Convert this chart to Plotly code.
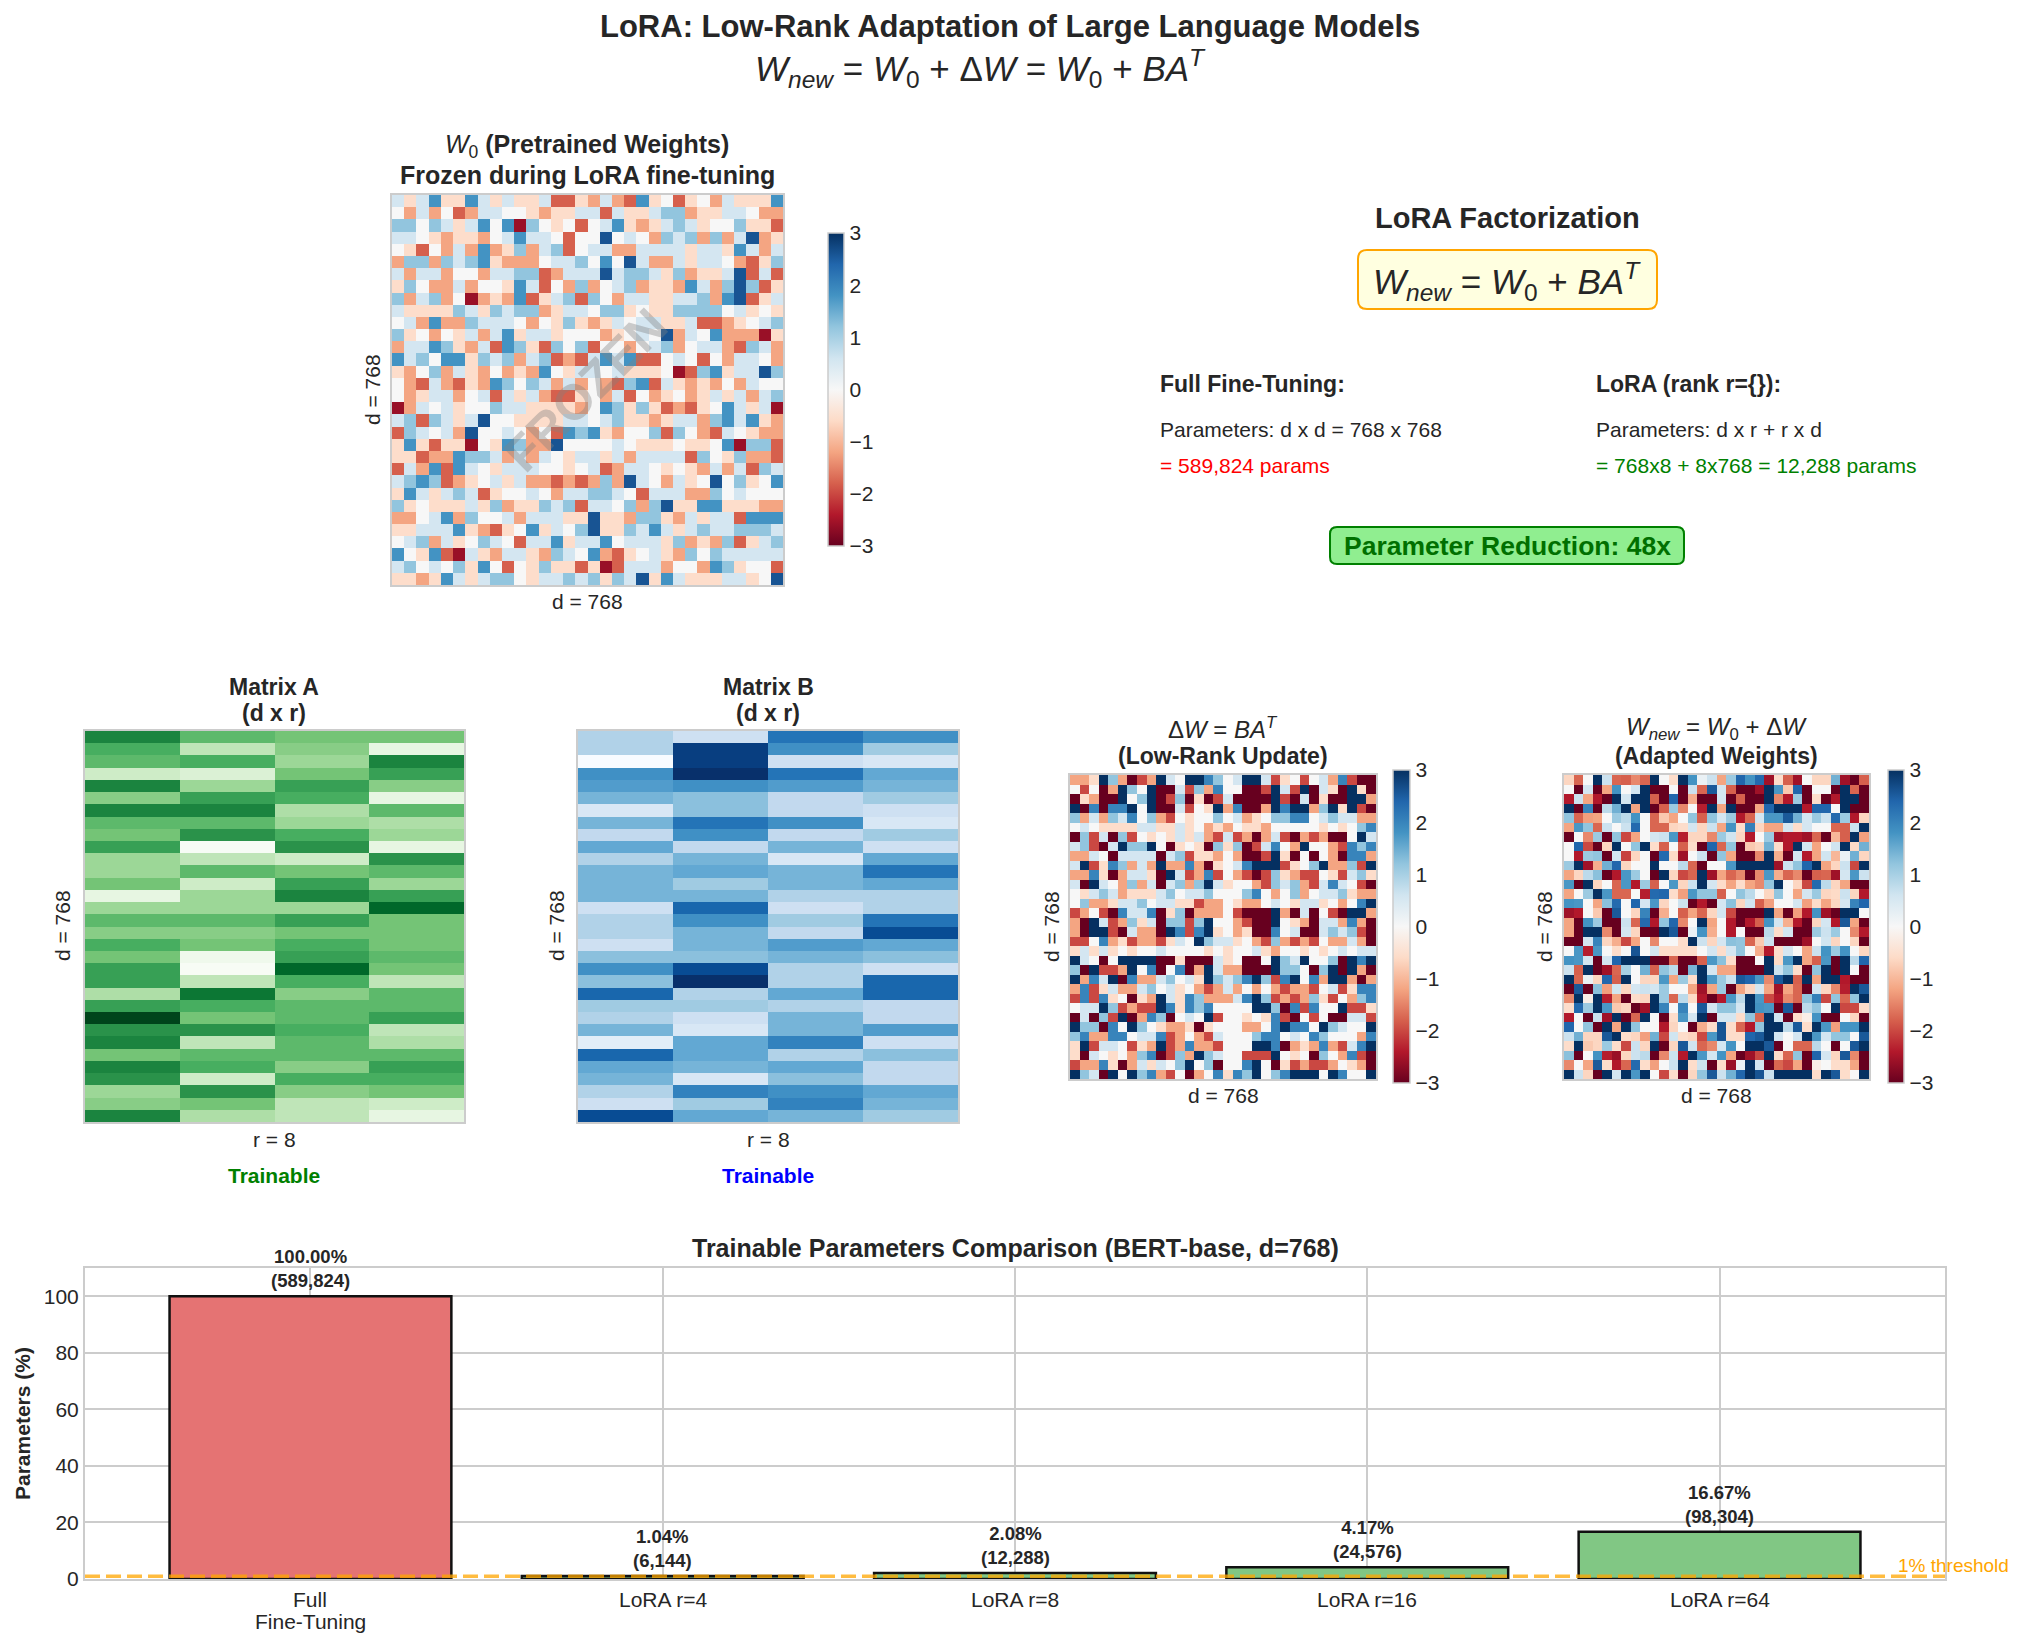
import plotly.graph_objects as go

FIG_W, FIG_H = 2020, 1644
FONT = "Liberation Sans, Arial, Helvetica, sans-serif"
INK = "#262626"
GRID = "#cccccc"


def fx(x):
    return x / FIG_W


def fy(y):
    return 1 - y / FIG_H


# ---------------------------------------------------------------- data
# Colour levels (RdBu, -3..3)
W0_LEVELS = {"R": -2.6, "r": -1.8, "o": -1.2, "p": -0.55, ".": 0.0,
             "c": 0.55, "l": 1.2, "b": 1.8, "B": 2.6}
DW_LEVELS = {"R": -3.6, "r": -2.0, "o": -1.2, "p": -0.55, ".": 0.0,
             "c": 0.55, "l": 1.2, "b": 2.0, "B": 3.6}

W0_ROWS = [
    "cpcbppbcpcppcrrpocorbp.rp.ocpppb",
    ".oco.rocc..poppccrcppclloppcc.oo",
    "ll.lcpcb.bRl.p.r.cbpopclcp..lppr",
    "cc.poppo.cbcc.r..B.c.olclolocBop",
    ".pr.ocoboploclr.ccooccccpccpbcoc",
    "ollolclbpooo.ccl.b.Bcoocpcc.orpl",
    "cocco..occllrocccBcllcploppcBrcr",
    "pl.ooco..pbcr.olo.cloppobcolBlrp",
    "loclo.Ropobrpclrl.occppcclobBrpc",
    "cpppplcplcllopcc.llp.ppllll.cp.p",
    ".coboolccc.o.plpopc.ccppcrrop.cl",
    "lp.o.pcocbpccp...op.c.Boc.boooRp",
    "occblpocrblprl.lr..o.clo.ccorlco",
    "bcl.bbplcloclrorcbcbrr.c.r.occ.o",
    "po.locpo.opob.pcc.cppp.RrlbpccBl",
    ".orcorpobl.lcoco.orlbrcpopo.oc..",
    ".opcco.crcpcorrp.ocr.op.opcpcocl",
    "Roc.cp..lccppppo.blplprorp.bcpcR",
    "clrlcpcB..ppppcc.clppopccolbcbpo",
    "rlc.coB..c.o.rblbpo..lrl.orc.poo",
    "pbprppR.pblooB....c.ppp.pp.bRllr",
    "pproobllcococ.pccpcoccccrl.ploor",
    "rcobrbc.pccc..p.crocc.p.pococrlc",
    "clblrop.cpcoororoloBc.ocp.B.lp.b",
    "pbcpclcrp..c.occllc.rcccool.c...",
    "lp.pppcplopplclrcc.lolBppbbpppoo",
    "oo.cbol..cocccppBppollpocpccrbbb",
    "ppcccbporp.bpc.lBpplcbcpclcclllc",
    ".clocp.lc.rccbpccb.cccplopolrpcl",
    "b.pbrRcpoccpolc.borp.cpol.lccccc",
    "cl.c.lpb.r.plpprpRrccco..oblp..r",
    "ppopbcpcll.pcclclplcBpbcpppccp.B",
]

DW_ROWS = [
    "oopBloRroBc.BBbl.cBBcrp.r.cobrRR",
    ".r.RoBl.BRRcrlob..RRrBcrBRcpRBpR",
    "RpoRRB.lBRrlRpRrcRRRRBrRcRpRRBBo",
    "BRbRbbB.BRRcr.pBobRRoBbBBolBpBrR",
    "locolcb.lor.p..l.cop.llbb.clccoo",
    ".c.ppppccppcp.opo.ppo.....p.p.lb",
    "RlrcRlr.p.pcpcorcroRocrRoroRR.Bc",
    "clrRcBllB.Rp.pRlplRrcb.oB..orblb",
    "ooc.RccccRclrppo.oRRrBpR.R.oRbbo",
    "cBrpblocoBooboRp.cbBBBrp.lBoolrB",
    "oobpRoccpRBcrobr.orRrlporr.prclp",
    "cRBc.olocRclolBcp..orlclorcbc.rR",
    ".pclcopppcl.ccl...lb.o.lo.cclpoo",
    ".loopccl.ccpproo.poo.c.pccp.o.bB",
    "ro.rRbccbRplRooo.rRRRBoRcR.rRBBo",
    "oRBcrolpcRllrlB..orRRB.poRccoboR",
    "oRBBrRcooRBbrbBp.opRRb.cRRclclrR",
    "rr.boproorpc.Blccp.orloror.oocoR",
    "pcpcp.p..c....p.p..cpo..p.p.c.cc",
    "Bc.R.BBBBRRpRRRcp.RR.BlcB..lRBbB",
    "lRBrroB.bR.bRoBcooRRRBll.RlBRBoR",
    "BobcBRboocl.cpBlclbBlrbB.boBBoRo",
    "obrpcoocl.cp.oroco.o.oroor.crpbb",
    "rbrbp.RpoBcpblooocbBlrorolpr.olb",
    ".ccBlrorrBbpblb....BBlRbrb..Brrp",
    "RcRlrBRoblR.c.Br..p.pbrR.r.RRccr",
    "BllRb.Bl.poopRp...oo.bBbb.Blc..B",
    "lboobb.ccbro.orc...lbb.c.bl...ob",
    "pBrcc.rpoBroboor...BBbRopoborcbB",
    "pRc.p.olbRrloBlc..rrrB.p.Rl.obrR",
    "roobpRocpc.lB.lR..bB.Rprorro.poR",
    "BlcRB.Blbor.Ro.bpblB.lbBBB.Bb..B",
]

# Matrix A (Greens) and Matrix B (Blues): relative shade levels, 32 x 4
A_VALUES = [
    [7, 5, 4.5, 4.5], [5.5, 2.5, 4, 1], [5, 5.5, 3.5, 7], [2, 1.5, 4.5, 6],
    [7, 3.5, 6, 4], [4, 6, 5.5, 1], [7, 7, 3, 5], [5, 5, 3.5, 3],
    [4.5, 6.5, 5.5, 3.5], [6, 0, 6.5, 1], [3.5, 2.5, 2, 6.5], [3.5, 5, 4.5, 5],
    [4.5, 2, 6, 3.5], [1, 3.5, 7, 6], [3.5, 3.5, 3.5, 8], [5, 5, 6, 4.5],
    [4, 4, 4.5, 4.5], [5.5, 4.5, 5.5, 4.5], [4.5, 0.5, 6, 5], [6, 0, 8, 4.5],
    [6, 2.5, 5.5, 2.5], [3, 7.5, 4, 5], [6, 5.5, 5, 5], [9, 4.5, 5, 6],
    [6.5, 6.5, 5.5, 2.5], [7, 2.5, 5, 3], [4.5, 5, 5, 5], [7, 5.5, 4, 6],
    [6.5, 2, 5.5, 5.5], [3.5, 6.5, 4, 4.5], [4, 4.5, 2.5, 2], [7, 3, 2.5, 1],
]
B_VALUES = [
    [3, 2, 7, 6], [3, 9, 6, 3.5], [0, 9, 2, 1.5], [6, 9.5, 7, 5],
    [5.5, 6, 5.5, 4.5], [4.5, 4, 2.5, 3.5], [1.5, 4, 2.5, 2], [4.5, 7, 6, 1.5],
    [2.5, 6, 2.5, 3.5], [5, 2.5, 4.5, 2], [3, 4.5, 1.5, 5], [4.5, 5, 4.5, 7],
    [4.5, 3.5, 4.5, 5], [4.5, 4.5, 3, 3], [2, 7.5, 2, 3], [3, 6, 3.5, 7],
    [3, 4.5, 2.5, 8.5], [2, 4.5, 5.5, 5], [4, 4, 4.5, 4], [6, 8.5, 3, 2],
    [4, 9.5, 3, 7.5], [7.5, 3, 5, 7.5], [3.5, 3.5, 3, 2.5], [3, 2, 4.5, 2.5],
    [4.5, 1.5, 4.5, 5.5], [1, 5, 6.5, 2], [7.5, 5, 3, 4], [5, 4.5, 5, 2.5],
    [4.5, 1.5, 4, 2.5], [3, 6.5, 6, 5], [2, 3.5, 6.5, 4.5], [8.5, 5, 4.5, 3.5],
]

# Bar chart
BAR_LABELS = [["Full", "Fine-Tuning"], ["LoRA r=4"], ["LoRA r=8"], ["LoRA r=16"], ["LoRA r=64"]]
BAR_PARAMS = [589824, 6144, 12288, 24576, 98304]
BAR_PCT = [100.00, 1.04, 2.08, 4.17, 16.67]
BAR_COLORS = ["#e57373", "#81c784", "#81c784", "#81c784", "#81c784"]
THRESHOLD = 1
Y_TICKS = [0, 20, 40, 60, 80, 100]
CB_TICKS = [-3, -2, -1, 0, 1, 2, 3]


def decode(rows, levels):
    out = []
    for row in rows:
        row = (row + "." * 32)[:32]
        out.append([levels.get(ch, 0.0) for ch in row])
    return out


W0 = decode(W0_ROWS, W0_LEVELS)
DW = decode(DW_ROWS, DW_LEVELS)
WNEW = [[a + b for a, b in zip(r0, r1)] for r0, r1 in zip(W0, DW)]

RDBU = [[0.0, "#67001f"], [0.1, "#b2182b"], [0.2, "#d6604d"], [0.3, "#f4a582"],
        [0.4, "#fddbc7"], [0.5, "#f7f7f7"], [0.6, "#d1e5f0"], [0.7, "#92c5de"],
        [0.8, "#4393c3"], [0.9, "#2166ac"], [1.0, "#053061"]]
GREENS = [[0, "#f7fcf5"], [0.125, "#e5f5e0"], [0.25, "#c7e9c0"], [0.375, "#a1d99b"],
          [0.5, "#74c476"], [0.625, "#41ab5d"], [0.75, "#238b45"], [0.875, "#006d2c"],
          [1, "#00441b"]]
BLUES = [[0, "#f7fbff"], [0.125, "#deebf7"], [0.25, "#c6dbef"], [0.375, "#9ecae1"],
         [0.5, "#6baed6"], [0.625, "#4292c6"], [0.75, "#2171b5"], [0.875, "#08519c"],
         [1, "#08306b"]]

fig = go.Figure()
axes = {}
annotations = []
shapes = []


def add_text(text, x, y, size, color=INK, xanchor="center", yanchor="middle", angle=0):
    annotations.append(dict(text=text, x=fx(x), y=fy(y), xref="paper", yref="paper",
                            xanchor=xanchor, yanchor=yanchor, showarrow=False,
                            textangle=angle, borderpad=0,
                            font=dict(family=FONT, size=size, color=color)))


def colorbar(x_left, y_top, y_bot, thick):
    return dict(x=fx(x_left), xanchor="left", y=(fy(y_top) + fy(y_bot)) / 2,
                yanchor="middle", len=(y_bot - y_top) / FIG_H, lenmode="fraction",
                thickness=thick, thicknessmode="pixels", xpad=0, ypad=0,
                outlinewidth=1.5, outlinecolor=GRID, ticks="",
                tickvals=CB_TICKS,
                ticktext=[str(v).replace("-", "\u2212") for v in CB_TICKS],
                tickfont=dict(family=FONT, size=21, color=INK))


def add_heatmap(idx, z, cscale, zmin, zmax, box, cbar=None):
    x0, y0, x1, y1 = box
    xa = "xaxis" if idx == 1 else f"xaxis{idx}"
    ya = "yaxis" if idx == 1 else f"yaxis{idx}"
    xr = "x" if idx == 1 else f"x{idx}"
    yr = "y" if idx == 1 else f"y{idx}"
    nrows, ncols = len(z), len(z[0])
    fig.add_trace(go.Heatmap(z=z, colorscale=cscale, zmin=zmin, zmax=zmax,
                             xaxis=xr, yaxis=yr, showscale=cbar is not None,
                             colorbar=cbar if cbar else None, hoverinfo="skip"))
    common = dict(showticklabels=False, showgrid=False, zeroline=False, ticks="",
                  showline=True, mirror=True, linecolor=GRID, linewidth=2,
                  fixedrange=True, automargin=False)
    axes[xa] = dict(domain=[fx(x0), fx(x1)], anchor=yr, range=[-0.5, ncols - 0.5], **common)
    axes[ya] = dict(domain=[fy(y1), fy(y0)], anchor=xr, range=[nrows - 0.5, -0.5], **common)


# ---------------------------------------------------------------- heatmaps
add_heatmap(1, W0, RDBU, -3, 3, (392, 195, 783, 585), colorbar(828, 233, 546, 16))
add_heatmap(2, A_VALUES, GREENS, min(min(r) for r in A_VALUES),
            max(max(r) for r in A_VALUES), (85, 731, 464, 1122))
add_heatmap(3, B_VALUES, BLUES, min(min(r) for r in B_VALUES),
            max(max(r) for r in B_VALUES), (578, 731, 958, 1122))
add_heatmap(4, DW, RDBU, -3, 3, (1070, 775, 1376, 1079), colorbar(1393, 770, 1083, 17))
add_heatmap(5, WNEW, RDBU, -3, 3, (1564, 775, 1869, 1079), colorbar(1888, 770, 1083, 16))

# ---------------------------------------------------------------- bar chart
BAR_X = list(range(len(BAR_PCT)))
fig.add_trace(go.Bar(x=BAR_X, y=BAR_PCT, width=0.8, xaxis="x6", yaxis="y6",
                     marker=dict(color=BAR_COLORS, line=dict(color="#111111", width=2.5)),
                     hoverinfo="skip"))
X_RANGE = [-0.64, len(BAR_PCT) - 1 + 0.64]
fig.add_trace(go.Scatter(x=X_RANGE, y=[THRESHOLD, THRESHOLD], mode="lines",
                         xaxis="x6", yaxis="y6", hoverinfo="skip",
                         line=dict(color="rgba(255,165,0,0.75)", width=3.5, dash="15px,6px")))
axes["xaxis6"] = dict(domain=[fx(85), fx(1945)], anchor="y6", range=X_RANGE,
                      tickvals=BAR_X, showticklabels=False, ticks="",
                      showgrid=True, gridcolor=GRID, gridwidth=1.5, zeroline=False,
                      showline=True, mirror=True, linecolor=GRID, linewidth=2,
                      fixedrange=True, automargin=False)
axes["yaxis6"] = dict(domain=[fy(1579), fy(1268)], anchor="x6", range=[0, 110],
                      tickvals=Y_TICKS, ticks="",
                      tickfont=dict(family=FONT, size=21, color=INK),
                      showgrid=True, gridcolor=GRID, gridwidth=1.5, zeroline=False,
                      showline=True, mirror=True, linecolor=GRID, linewidth=2,
                      fixedrange=True, automargin=False)

# category labels under the bars (one text per line, to match the line spacing)
for i, lines in enumerate(BAR_LABELS):
    for k, line in enumerate(lines):
        annotations.append(dict(text=line, x=i, y=fy(1599 + 22 * k), xref="x6", yref="paper",
                                xanchor="center", yanchor="middle", showarrow=False,
                                borderpad=0,
                                font=dict(family=FONT, size=21, color=INK)))

for i, (p, n) in enumerate(zip(BAR_PCT, BAR_PARAMS)):
    annotations.append(dict(text=f"<b>{p:.2f}%<br>({n:,})</b>", x=i, y=p, xref="x6",
                            yref="y6", xanchor="center", yanchor="bottom", yshift=3,
                            showarrow=False,
                            font=dict(family=FONT, size=18.5, color=INK)))
annotations.append(dict(text="1% threshold", x=4.5, y=THRESHOLD, xref="x6", yref="y6",
                        xanchor="left", yanchor="bottom", yshift=-2, showarrow=False,
                        font=dict(family=FONT, size=19, color="#FFA500")))
add_text("<b>Trainable Parameters Comparison (BERT-base, d=768)</b>", 1015, 1248, 25)
add_text("<b>Parameters (%)</b>", 22, 1424, 21, angle=-90)

# ---------------------------------------------------------------- titles & labels
add_text("<b>LoRA: Low-Rank Adaptation of Large Language Models</b>", 1010, 27, 31)
add_text("<i>W</i><sub><i>new</i></sub> = <i>W</i><sub>0</sub> + \u0394<i>W</i> = "
         "<i>W</i><sub>0</sub> + <i>BA</i><sup><i>T</i></sup>", 980, 69, 35)

add_text("<i>W</i><sub>0</sub><b> (Pretrained Weights)</b>", 587, 146.5, 25)
add_text("<b>Frozen during LoRA fine-tuning</b>", 587, 175.5, 25)
add_text("d = 768", 372, 390, 21, angle=-90)
add_text("d = 768", 587, 601, 21)
add_text("<b>FROZEN</b>", 586, 390, 50, color="rgba(128,128,128,0.38)", angle=-45)

for cx, name, ylab_x, tcolor in ((274, "Matrix A", 62, "#008000"),
                                 (768, "Matrix B", 556, "#0000ff")):
    add_text(f"<b>{name}</b>", cx, 687, 23)
    add_text("<b>(d x r)</b>", cx, 713, 23)
    add_text("d = 768", ylab_x, 926, 21, angle=-90)
    add_text("r = 8", cx, 1139, 21)
    add_text("<b>Trainable</b>", cx, 1175, 21, color=tcolor)

add_text("\u0394<i>W</i> = <i>BA</i><sup><i>T</i></sup>", 1223, 728.5, 24)
add_text("<b>(Low-Rank Update)</b>", 1223, 756, 23)
add_text("d = 768", 1052, 927, 21, angle=-90)
add_text("d = 768", 1223, 1095, 21)

add_text("<i>W</i><sub><i>new</i></sub> = <i>W</i><sub>0</sub> + \u0394<i>W</i>",
         1716, 728.5, 24)
add_text("<b>(Adapted Weights)</b>", 1716, 756, 23)
add_text("d = 768", 1545, 927, 21, angle=-90)
add_text("d = 768", 1716, 1095, 21)

# ---------------------------------------------------------------- factorization panel


def rounded_path(x0, y0, x1, y1, r):
    def P(x, y):
        return f"{fx(x):.5f},{fy(y):.5f}"
    return (f"M {P(x0 + r, y0)} L {P(x1 - r, y0)} Q {P(x1, y0)} {P(x1, y0 + r)} "
            f"L {P(x1, y1 - r)} Q {P(x1, y1)} {P(x1 - r, y1)} "
            f"L {P(x0 + r, y1)} Q {P(x0, y1)} {P(x0, y1 - r)} "
            f"L {P(x0, y0 + r)} Q {P(x0, y0)} {P(x0 + r, y0)} Z")


shapes.append(dict(type="path", xref="paper", yref="paper",
                   path=rounded_path(1358, 250, 1657, 309, 9),
                   fillcolor="#FFFFE0", line=dict(color="#FFA500", width=2)))
shapes.append(dict(type="path", xref="paper", yref="paper",
                   path=rounded_path(1330, 527, 1684, 564, 7),
                   fillcolor="#90EE90", line=dict(color="#008000", width=2)))

add_text("<b>LoRA Factorization</b>", 1507, 218, 29)
add_text("<i>W</i><sub><i>new</i></sub> = <i>W</i><sub>0</sub> + "
         "<i>BA</i><sup><i>T</i></sup>", 1507, 281, 35)
add_text("<b>Full Fine-Tuning:</b>", 1159, 384, 23, xanchor="left")
add_text("Parameters: d x d = 768 x 768", 1159, 429, 21, xanchor="left")
add_text("= 589,824 params", 1159, 466, 21, color="#ff0000", xanchor="left")
add_text("<b>LoRA (rank r={}):</b>", 1595, 384, 23, xanchor="left")
add_text("Parameters: d x r + r x d", 1595, 429, 21, xanchor="left")
add_text("= 768x8 + 8x768 = 12,288 params", 1595, 466, 21, color="#008000", xanchor="left")
add_text("<b>Parameter Reduction: 48x</b>", 1507, 546, 26.5, color="#007000")

fig.update_layout(width=FIG_W, height=FIG_H,
                  margin=dict(l=0, r=0, t=0, b=0, pad=0, autoexpand=False),
                  paper_bgcolor="white", plot_bgcolor="white", showlegend=False,
                  font=dict(family=FONT, color=INK), annotations=annotations,
                  shapes=shapes, **axes)
fig.write_html("out.html")
